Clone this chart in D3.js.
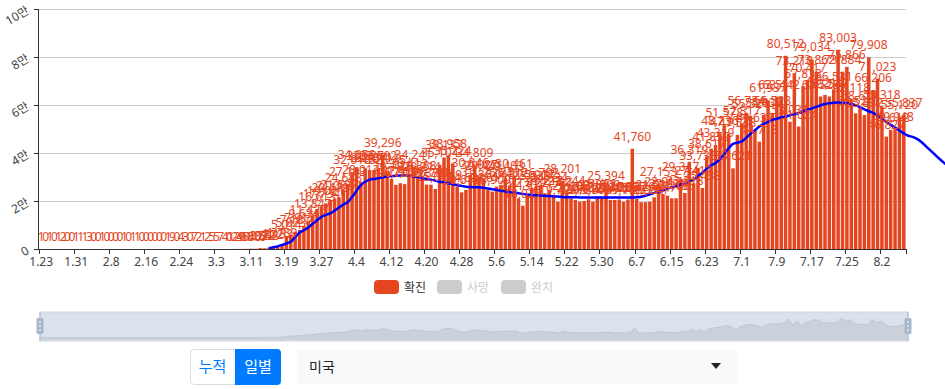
<!DOCTYPE html>
<meta charset="utf-8">
<head>
  <style>
    body {
      margin: 0;
      background: #fff;
      font-family: "Noto Sans", "Noto Sans CJK KR", sans-serif;
    }
    svg {
      display: block;
    }
    .grid line {
      stroke: #ccc;
      stroke-width: 1;
    }
    .axis line, .axis path {
      stroke: #333;
      stroke-width: 1;
      shape-rendering: crispEdges;
    }
    .tick-label {
      font-size: 12px;
      fill: #444;
    }
    .bar-label {
      font-size: 12px;
      fill: #e6461f;
    }
    .legend text {
      font-size: 12px;
    }
  </style>
</head>
<body>
  <svg id="chart" width="945" height="389"></svg>
  <script src="https://d3js.org/d3.v7.min.js"></script>
  <script>
    // category days: 1.23 .. 8.7
    const days = d3.timeDay.range(new Date(2020, 0, 23), new Date(2020, 7, 8));
    const categories = days.map(d => (d.getMonth() + 1) + "." + d.getDate());

    const tickLabels = ["1.23", "1.31", "2.8", "2.16", "2.24", "3.3", "3.11", "3.19", "3.27",
      "4.4", "4.12", "4.20", "4.28", "5.6", "5.14", "5.22", "5.30", "6.7", "6.15", "6.23",
      "7.1", "7.9", "7.17", "7.25", "8.2"];

    const yTicks = [0, 20000, 40000, 60000, 80000, 100000];
    const yTickLabels = ["0", "2만", "4만", "6만", "8만", "10만"];

    // daily confirmed (확진), one per category
    const confirmed = [
      1, 0, 1, 0, 1, 2, 0, 0, 1, 1, 1, 3, 0, 0, 1, 0, 0, 0, 0, 1, 0, 1, 1, 0, 0, 0, 0, 0, 0, 1,
      9, 0, 4, 3, 0, 7, 2, 1, 2, 5, 5, 7, 4, 0,
      12, 29, 45, 68, 140, 116, 376, 322, 548,
      772, 1133, 1789,
      5014, 5823, 7187, 7912, 9634, 11428, 13847, 16613, 17734, 19021, 20419, 21062, 21597, 24648, 27103, 32018, 34056,
      28012, 33627, 32914, 32871, 33602, 39296, 32245, 29187, 26704, 27419, 27036, 30412, 34241, 29388, 29214, 26833, 26791, 25012, 35104, 38137, 38958, 35724, 25918, 23611, 24633, 30846, 34809,
      30027, 29441, 24615, 23909, 26018, 26741, 29403, 26512, 30461, 21130, 18027, 22519, 25538, 25917, 26702, 23218, 24634, 22507, 19726, 28201, 23244, 21102,
      20418, 19733, 20012, 20716, 19708, 21832, 21809, 25394, 20433, 20417, 20625, 19718, 20637, 41760, 20829, 19512, 19534, 19721, 21536, 27153, 22917, 22231, 21108, 21136,
      29347, 23318, 36319, 27412, 33738, 25433, 38617, 41852, 43319, 48236, 51578, 47912, 33621, 47538, 52317, 56734, 55521, 49637, 44718, 55836, 61937, 56528, 63514, 63442,
      80512, 53031, 73218, 51024, 67833, 70417, 79034, 73862, 63528, 64219, 63547, 66531, 83003, 73884, 75866, 62118, 56524, 58617, 55832, 79908, 66206, 71023, 59318, 46827, 49612, 49948, 55120, 55837
    ];

    // smoothed trend line, starting at category index trendStart (runs past the last day)
    const trendStart = 52;
    const trend = [
      300, 700, 1100, 1700, 2300, 3000, 5000, 6800, 7800, 9000,
      10500, 12000, 13400, 14200, 14800, 16000, 17300, 18500, 19500, 21700,
      24200, 26600, 28000, 28900, 29200, 29500, 29900, 30200, 30400, 30550,
      30650, 30700, 30600, 30250, 29900, 29550, 29200, 28900, 28500, 28050,
      27750, 27400, 27000, 26600, 26300, 25900, 25800, 25750, 25700, 25500,
      25200, 24900, 24600, 24300, 24000, 23700, 23450, 23200, 22950, 22700,
      22500, 22350, 22250, 22150, 22050, 21950, 21850, 21700, 21600, 21550,
      21530, 21500, 21500, 21500, 21500, 21500, 21500, 21500, 21500, 21500,
      21500, 21500, 21500, 21500, 21550, 21800, 22200, 22800, 23400, 23900,
      24400, 25100, 25700, 26100, 26900, 27200, 28000, 28900, 30300, 31800,
      33500, 34800, 35800, 37600, 39500, 42000, 43800, 44300, 44800, 46300,
      48000, 49500, 51000, 52100, 53000, 53800, 54300, 54800, 55200, 55700,
      56200, 56600, 57300, 58000, 58600, 59200, 59900, 60400, 60700, 60900,
      61000, 60900, 60700, 60400, 59900, 59100, 58200, 57400, 56700, 55600,
      54400, 53000, 51700, 50600, 49400, 48200, 47200, 46700, 45900, 44600,
      42900, 41200, 39500, 37800, 36200, 34700
    ];

    const legendNames = ["확진", "사망", "완치"];
    const legendActive = [true, false, false];
    const modeButtons = ["누적", "일별"];
    const countryName = "미국";

    const barColor = "#e6461f";
    const margin = {left: 39, right: 39, top: 9, plotBottom: 249};
    const plotRight = 906;

    const svg = d3.select("#chart");

    const x = d3.scaleBand()
      .domain(categories)
      .range([margin.left, plotRight])
      .paddingInner(0.2)
      .paddingOuter(0.1);

    // index -> band boundary (used for ticks and the trend line)
    const xi = d3.scaleLinear()
      .domain([0, categories.length])
      .range([margin.left, plotRight]);

    const y = d3.scaleLinear()
      .domain([0, 100000])
      .range([margin.plotBottom, margin.top]);

    // grid
    svg.append("g").attr("class", "grid")
      .selectAll("line")
      .data(yTicks.slice(1))
      .join("line")
      .attr("x1", margin.left).attr("x2", plotRight)
      .attr("y1", d => Math.round(y(d)) + 0.5).attr("y2", d => Math.round(y(d)) + 0.5);

    // bars
    svg.append("g")
      .selectAll("rect")
      .data(confirmed)
      .join("rect")
      .attr("x", (d, i) => x(categories[i]))
      .attr("width", x.bandwidth())
      .attr("y", d => y(d))
      .attr("height", d => y(0) - y(d))
      .attr("fill", barColor);

    // trend line
    const line = d3.line()
      .x((d, i) => xi(trendStart + i + 0.5))
      .y(d => y(d))
      .curve(d3.curveCatmullRom);

    svg.append("path")
      .datum(trend)
      .attr("d", line)
      .attr("fill", "none")
      .attr("stroke", "#0000ff")
      .attr("stroke-width", 2.5);

    // bar labels
    const fmt = d3.format(",");
    svg.append("g")
      .selectAll("text")
      .data(confirmed)
      .join("text")
      .attr("class", "bar-label")
      .attr("x", (d, i) => x(categories[i]) + x.bandwidth() / 2)
      .attr("y", d => y(d) - 8)
      .attr("text-anchor", "middle")
      .text(d => fmt(d));

    // x axis
    const xAxis = svg.append("g").attr("class", "axis");
    xAxis.append("line")
      .attr("x1", margin.left).attr("x2", plotRight)
      .attr("y1", margin.plotBottom + 0.5).attr("y2", margin.plotBottom + 0.5);

    const tickIdx = tickLabels.map(t => categories.indexOf(t));
    xAxis.selectAll("line.tk")
      .data(tickIdx.concat([categories.length]))
      .join("line")
      .attr("class", "tk")
      .attr("x1", d => Math.round(xi(d)) + 0.5).attr("x2", d => Math.round(xi(d)) + 0.5)
      .attr("y1", margin.plotBottom).attr("y2", margin.plotBottom + 5);

    xAxis.selectAll("text")
      .data(tickLabels)
      .join("text")
      .attr("class", "tick-label")
      .attr("x", (d, i) => xi(tickIdx[i] + 0.5))
      .attr("y", margin.plotBottom + 17)
      .attr("text-anchor", "middle")
      .text(d => d);

    // y axis
    const yAxis = svg.append("g").attr("class", "axis");
    yAxis.append("line")
      .attr("x1", margin.left - 0.5).attr("x2", margin.left - 0.5)
      .attr("y1", margin.top).attr("y2", margin.plotBottom);
    yAxis.selectAll("line.tk")
      .data(yTicks)
      .join("line")
      .attr("class", "tk")
      .attr("x1", margin.left - 5).attr("x2", margin.left)
      .attr("y1", d => Math.round(y(d)) + 0.5).attr("y2", d => Math.round(y(d)) + 0.5);
    yAxis.selectAll("text")
      .data(yTicks)
      .join("text")
      .attr("class", "tick-label")
      .attr("transform", d => `translate(${margin.left - 9},${y(d) + 4}) rotate(-30)`)
      .attr("text-anchor", "end")
      .text((d, i) => yTickLabels[i]);

    // legend
    const legend = svg.append("g").attr("class", "legend");
    const legendX = [374, 437, 501];
    legendNames.forEach((name, i) => {
      const g = legend.append("g").attr("transform", `translate(${legendX[i]},280)`);
      g.append("rect")
        .attr("width", 25).attr("height", 14).attr("rx", 4)
        .attr("fill", legendActive[i] ? barColor : "#ccc");
      g.append("text")
        .attr("x", 30).attr("y", 11.5)
        .attr("fill", legendActive[i] ? "#333" : "#ccc")
        .text(name);
    });

    // data zoom slider with preview of the confirmed series
    const sl = {x0: 40, x1: 908, y0: 312, y1: 341};
    const slider = svg.append("g");
    slider.append("rect")
      .attr("x", sl.x0).attr("y", sl.y0)
      .attr("width", sl.x1 - sl.x0).attr("height", sl.y1 - sl.y0)
      .attr("fill", "#dce2eb")
      .attr("stroke", "#cfd6e0");

    const px = d3.scaleLinear().domain([0, confirmed.length - 1]).range([sl.x0 + 1, sl.x1 - 1]);
    const py = d3.scaleLinear().domain([0, d3.max(confirmed)]).range([337.5, 318.5]);
    const area = d3.area()
      .x((d, i) => px(i))
      .y0(sl.y1 - 1)
      .y1(d => py(d));
    slider.append("path")
      .datum(confirmed)
      .attr("d", area)
      .attr("fill", "#cbd1db");
    slider.append("path")
      .datum(confirmed)
      .attr("d", d3.line().x((d, i) => px(i)).y(d => py(d)))
      .attr("fill", "none")
      .attr("stroke", "#bcc3ce")
      .attr("stroke-width", 0.8);

    [sl.x0, sl.x1].forEach(hx => {
      slider.append("line")
        .attr("x1", hx).attr("x2", hx).attr("y1", sl.y0).attr("y2", sl.y1)
        .attr("stroke", "#a7b7cc");
      slider.append("rect")
        .attr("x", hx - 3.5).attr("y", 318).attr("width", 7).attr("height", 16).attr("rx", 1.5)
        .attr("fill", "#a7b7cc");
      slider.append("line")
        .attr("x1", hx).attr("x2", hx).attr("y1", 321).attr("y2", 331)
        .attr("stroke", "#fff").attr("stroke-width", 1).attr("stroke-dasharray", "2,2");
    });

    // mode buttons
    const btn = svg.append("g");
    btn.append("rect")
      .attr("x", 190.5).attr("y", 349.5).attr("width", 90).attr("height", 35).attr("rx", 4)
      .attr("fill", "#fff").attr("stroke", "#d9dde2");
    btn.append("path")
      .attr("d", "M235,349 H277 a4,4 0 0 1 4,4 V381 a4,4 0 0 1 -4,4 H235 Z")
      .attr("fill", "#007bff");
    btn.selectAll("text")
      .data(modeButtons)
      .join("text")
      .attr("x", (d, i) => i === 0 ? 212.5 : 258)
      .attr("y", 372)
      .attr("text-anchor", "middle")
      .attr("font-size", 15)
      .attr("fill", (d, i) => i === 0 ? "#007bff" : "#fff")
      .text(d => d);

    // country select
    const sel = svg.append("g");
    sel.append("rect")
      .attr("x", 297).attr("y", 350).attr("width", 441).attr("height", 34).attr("rx", 4)
      .attr("fill", "#f8f9fa");
    sel.append("text")
      .attr("x", 309).attr("y", 372)
      .attr("font-size", 14)
      .attr("fill", "#212529")
      .text(countryName);
    sel.append("path")
      .attr("d", "M711,363 h10 l-5,6 Z")
      .attr("fill", "#222");
  </script>
</body>
